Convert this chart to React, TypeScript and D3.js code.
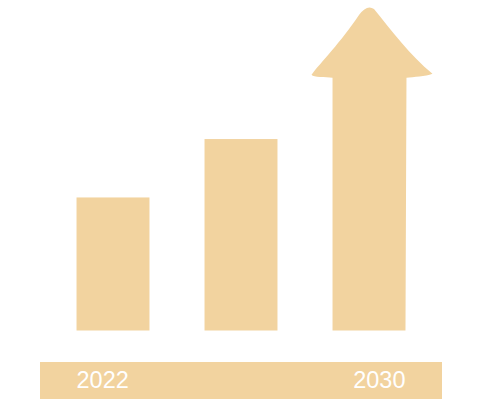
import React from "react";
import * as d3 from "d3";

const categories = ["2022", "mid", "2030"];
const values = [41, 59, 100];
const arrowBaseValue = 78.5;
const tickLabels = ["2022", "2030"];

const W = 482;
const H = 406;
const COLOR = "#f2d39f";

export default function App() {
  const x = d3
    .scaleBand<string>()
    .domain(categories)
    .range([49, 433])
    .paddingInner(0.43)
    .paddingOuter(0.215);
  const y = d3.scaleLinear().domain([0, 100]).range([330.5, 6]);

  const bw = x.bandwidth();
  const last = categories[categories.length - 1];
  const ax0 = x(last)!;
  const ax1 = ax0 + bw;
  const tipY = y(values[2]);
  const baseY = y(arrowBaseValue);
  const cx = ax0 + bw / 2;

  const p = d3.path();
  p.moveTo(ax0, y(0));
  p.lineTo(ax0, baseY + 2);
  p.bezierCurveTo(ax0 - 7, baseY + 1, ax0 - 19, baseY + 2, ax0 - 21, baseY - 1);
  p.bezierCurveTo(ax0 - 12, baseY - 13, cx - 28, tipY + 36, cx - 10, tipY + 9);
  p.quadraticCurveTo(cx - 2, tipY - 2, cx + 5, tipY + 3);
  p.bezierCurveTo(cx + 22, tipY + 24, ax1 + 5, tipY + 50, ax1 + 27, baseY - 2);
  p.bezierCurveTo(ax1 + 20, baseY + 1, ax1 + 8, baseY + 1, ax1 + 1, baseY + 2);
  p.lineTo(ax1, y(0));
  p.closePath();

  return (
    <svg width={W} height={H} style={{ position: "absolute", left: 0, top: 0 }}>
      <rect width={W} height={H} fill="#ffffff" />
      {categories.slice(0, 2).map((c, i) => (
        <rect
          key={c}
          x={x(c)}
          y={y(values[i])}
          width={bw}
          height={y(0) - y(values[i])}
          fill={COLOR}
        />
      ))}
      <path d={p.toString()} fill={COLOR} />
      <rect x={40} y={362} width={402} height={37} fill={COLOR} />
      <text
        x={x(categories[0])}
        y={388}
        fill="#ffffff"
        fontFamily="Liberation Sans, Arial, sans-serif"
        fontSize={23.5}
        textAnchor="start"
      >
        {tickLabels[0]}
      </text>
      <text
        x={ax1}
        y={388}
        fill="#ffffff"
        fontFamily="Liberation Sans, Arial, sans-serif"
        fontSize={23.5}
        textAnchor="end"
      >
        {tickLabels[1]}
      </text>
    </svg>
  );
}
